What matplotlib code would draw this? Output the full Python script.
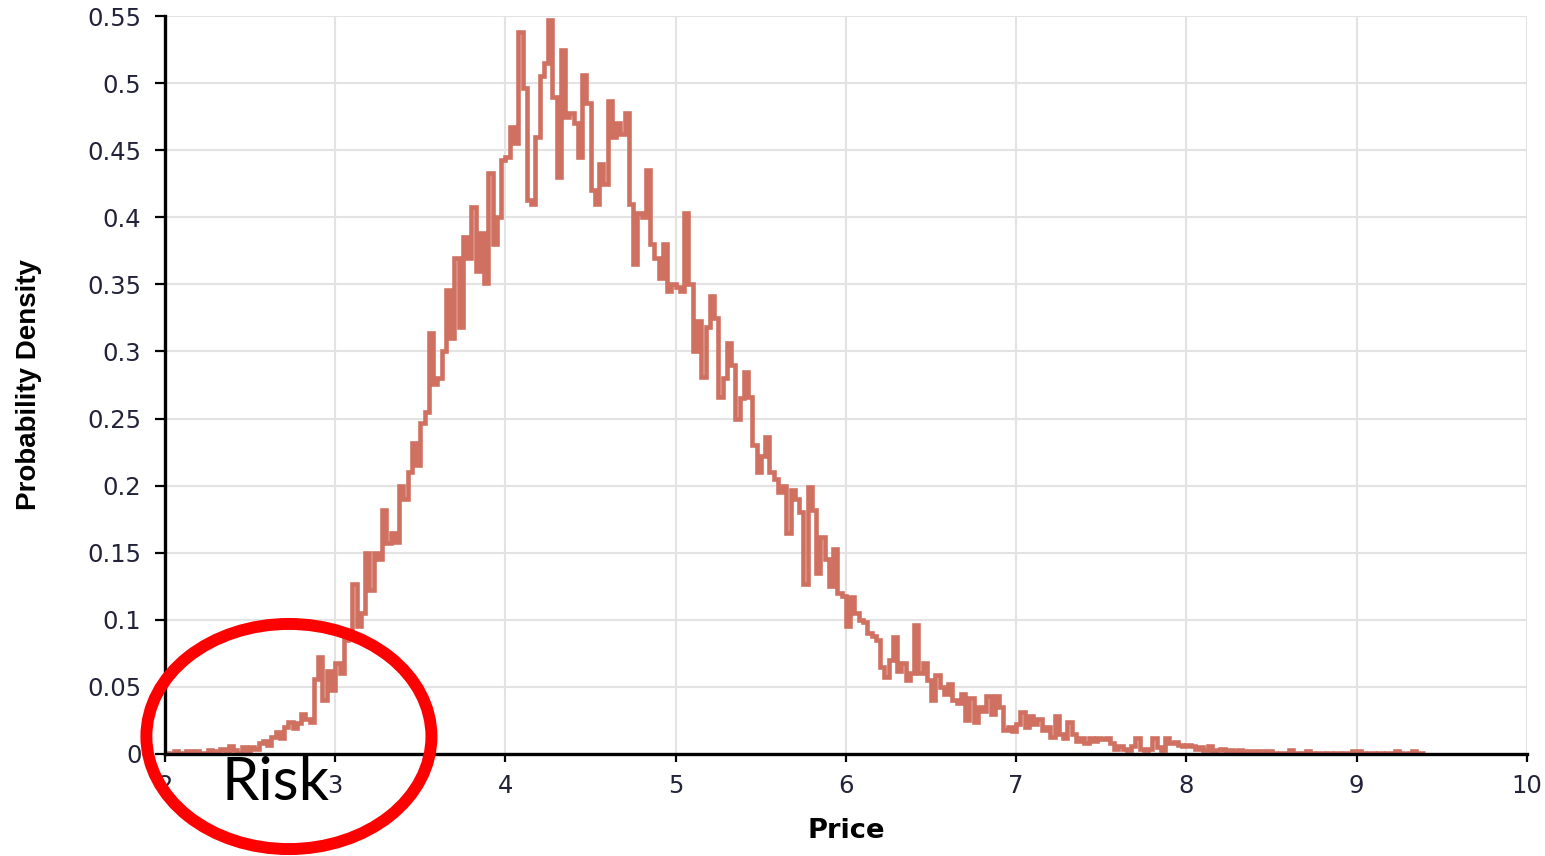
import numpy as np
import matplotlib

matplotlib.use('Agg')
import matplotlib.pyplot as plt
from matplotlib.patches import Ellipse

plt.rcParams['font.family'] = ['DejaVu Sans']

# histogram of simulated prices, bin width 0.025 starting at 2.0
bin_start = 2.0
bin_width = 0.025

density = [
    # 2.0 - 2.5
    0.001, 0.0, 0.002, 0.001, 0.0, 0.002, 0.001, 0.002, 0.0, 0.001,
    0.003, 0.001, 0.002, 0.004, 0.002, 0.006, 0.003, 0.001, 0.005, 0.002,
    # 2.5 - 3.0
    0.005, 0.004, 0.008, 0.010, 0.007, 0.013, 0.016, 0.012, 0.020, 0.024,
    0.019, 0.023, 0.030, 0.026, 0.024, 0.056, 0.072, 0.040, 0.062, 0.048,
    # 3.0 - 3.5
    0.068, 0.060, 0.085, 0.092, 0.127, 0.095, 0.105, 0.150, 0.122, 0.150,
    0.145, 0.182, 0.157, 0.165, 0.158, 0.200, 0.190, 0.210, 0.232, 0.215,
    # 3.5 - 4.0
    0.247, 0.255, 0.314, 0.276, 0.280, 0.300, 0.346, 0.310, 0.370, 0.318,
    0.385, 0.370, 0.408, 0.360, 0.388, 0.351, 0.433, 0.380, 0.400, 0.443,
    # 4.0 - 4.5
    0.445, 0.467, 0.455, 0.538, 0.496, 0.413, 0.410, 0.460, 0.505, 0.515,
    0.547, 0.490, 0.430, 0.525, 0.475, 0.478, 0.470, 0.445, 0.506, 0.485,
    # 4.5 - 5.0
    0.420, 0.410, 0.440, 0.425, 0.487, 0.460, 0.470, 0.462, 0.478, 0.410,
    0.365, 0.403, 0.400, 0.435, 0.380, 0.370, 0.355, 0.380, 0.345, 0.350,
    # 5.0 - 5.5
    0.348, 0.345, 0.403, 0.350, 0.300, 0.323, 0.281, 0.318, 0.341, 0.325,
    0.266, 0.280, 0.306, 0.290, 0.250, 0.265, 0.285, 0.266, 0.230, 0.210,
    # 5.5 - 6.0
    0.222, 0.236, 0.210, 0.205, 0.195, 0.200, 0.165, 0.197, 0.190, 0.180,
    0.127, 0.199, 0.182, 0.135, 0.162, 0.145, 0.125, 0.153, 0.120, 0.118,
    # 6.0 - 6.5
    0.095, 0.117, 0.105, 0.100, 0.098, 0.090, 0.088, 0.085, 0.065, 0.057,
    0.070, 0.087, 0.062, 0.068, 0.055, 0.060, 0.096, 0.060, 0.068, 0.055,
    # 6.5 - 7.0
    0.040, 0.059, 0.050, 0.045, 0.052, 0.040, 0.038, 0.045, 0.025, 0.042,
    0.024, 0.035, 0.032, 0.043, 0.030, 0.043, 0.035, 0.018, 0.020, 0.017,
    # 7.0 - 7.5
    0.022, 0.031, 0.020, 0.028, 0.022, 0.026, 0.018, 0.020, 0.013, 0.028,
    0.015, 0.012, 0.024, 0.015, 0.010, 0.012, 0.008, 0.012, 0.010, 0.012,
    # 7.5 - 8.0
    0.011, 0.012, 0.008, 0.004, 0.006, 0.004, 0.003, 0.006, 0.012, 0.004,
    0.003, 0.004, 0.012, 0.005, 0.003, 0.012, 0.008, 0.009, 0.007, 0.006,
    # 8.0 - 8.5
    0.007, 0.006, 0.004, 0.005, 0.003, 0.006, 0.002, 0.003, 0.004, 0.002,
    0.003, 0.002, 0.003, 0.001, 0.002, 0.002, 0.001, 0.002, 0.001, 0.002,
    # 8.5 - 9.0
    0.001, 0.0, 0.001, 0.001, 0.003, 0.001, 0.0, 0.001, 0.002, 0.001,
    0.0, 0.001, 0.0, 0.001, 0.0, 0.001, 0.0, 0.001, 0.0, 0.002,
    # 9.0 - 9.4
    0.002, 0.001, 0.0, 0.001, 0.0, 0.001, 0.0, 0.001, 0.0, 0.002,
    0.001, 0.0, 0.001, 0.002, 0.001, 0.001,
]

x_ticks = [2, 3, 4, 5, 6, 7, 8, 9, 10]
y_ticks = [0, 0.05, 0.1, 0.15, 0.2, 0.25, 0.3, 0.35, 0.4, 0.45, 0.5, 0.55]
y_tick_labels = ['0', '0.05', '0.1', '0.15', '0.2', '0.25', '0.3', '0.35', '0.4', '0.45', '0.5', '0.55']

line_color = '#d07060'
tick_color = '#22223a'

edges = bin_start + bin_width * np.arange(len(density) + 1)

fig = plt.figure(figsize=(15.45, 8.56), dpi=100)
ax = fig.add_axes([0.1068, 0.1192, 0.8815, 0.8621])

ax.stairs(density, edges, baseline=None, color=line_color, lw=3.3, zorder=3)

ax.set_xlim(2, 10)
ax.set_ylim(0, 0.55)
ax.set_xticks(x_ticks)
ax.set_yticks(y_ticks)
ax.set_yticklabels(y_tick_labels)

ax.grid(True, color='#e3e3e3', lw=1.5, zorder=0)
ax.set_axisbelow(True)

for side in ['top', 'right']:
    ax.spines[side].set_visible(False)
for side in ['left', 'bottom']:
    ax.spines[side].set_linewidth(2.4)
    ax.spines[side].set_color('black')
    ax.spines[side].set_zorder(4)

ax.tick_params(axis='both', width=1.6, color='black', labelsize=17.5, labelcolor=tick_color)
ax.tick_params(axis='x', length=6, pad=8.5)
ax.tick_params(axis='y', length=7, pad=10)

ax.set_xlabel('Price', fontsize=19.7, fontweight='bold')
ax.set_ylabel('Probability Density', fontsize=20, fontweight='bold',
              family=['Liberation Sans', 'DejaVu Sans'])
ax.xaxis.set_label_coords(0.5, -0.0867)
ax.yaxis.set_label_coords(-0.090, 0.5)

# annotation: circled low-price risk region
ring = Ellipse((0.187, 0.1396), 0.1845, 0.263, transform=fig.transFigure,
               facecolor='none', edgecolor='#ff0000', lw=8.6, zorder=10)
fig.patches.append(ring)
fig.text(0.178, 0.065, 'Risk', fontsize=43, family=['Lato', 'DejaVu Sans'],
         ha='center', va='baseline', color='black', zorder=11)

plt.savefig('out.png', dpi=100)
plt.close()
